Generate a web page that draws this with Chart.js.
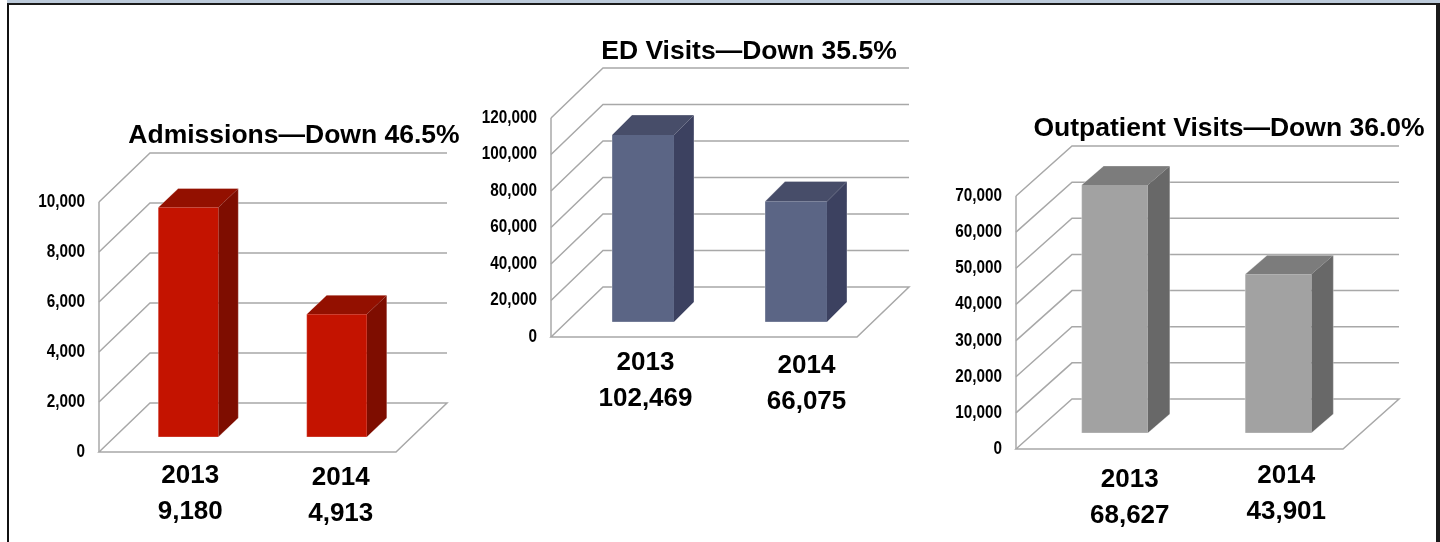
<!DOCTYPE html>
<html>
<head>
<meta charset="utf-8">
<title>Admissions, ED and Outpatient Visits</title>
<script src="https://cdn.jsdelivr.net/npm/chart.js@4/dist/chart.umd.min.js"></script>
<style>
  html, body { margin: 0; background: #fff; overflow: hidden; }
  #frame { position: absolute; left: 7px; top: 0; width: 1433px; height: 542px; box-sizing: border-box;
           border-top: 3px solid #bccada; }
  #frame div { position: absolute; left: 0; top: 0; right: 0; bottom: 0; box-sizing: border-box;
               border-top: 2px solid #1a1a1a; border-left: 2px solid #111; border-right: 4px solid #1a1a1a; }
  .box { position: absolute; }
</style>
</head>
<body>
<div id="frame"><div></div></div>
<div class="box" style="left:20px;top:110px;width:445px;height:430px"><canvas id="admissions"></canvas></div>
<div class="box" style="left:470px;top:30px;width:450px;height:400px"><canvas id="edVisits"></canvas></div>
<div class="box" style="left:930px;top:105px;width:500px;height:435px"><canvas id="outpatient"></canvas></div>
<script>
const years = ["2013", "2014"];

const admissionsTitle = "Admissions\u2014Down 46.5%";
const admissionsValues = [9180, 4913];
const admissionsTicks = [0, 2000, 4000, 6000, 8000, 10000];

const edTitle = "ED Visits\u2014Down 35.5%";
const edValues = [102469, 66075];
const edTicks = [0, 20000, 40000, 60000, 80000, 100000, 120000];

const outpatientTitle = "Outpatient Visits\u2014Down 36.0%";
const outpatientValues = [68627, 43901];
const outpatientTicks = [0, 10000, 20000, 30000, 40000, 50000, 60000, 70000];

const fmt = (v) => v.toLocaleString("en-US");

// fake 3d: back wall and floor, then the bars as three faces
const fake3d = {
    id: "fake3d",
    beforeDatasetsDraw(chart, args, opts) {
        const { ctx, chartArea: a, scales: { y } } = chart;
        const [dx, dy] = opts.wall;
        ctx.save();
        ctx.strokeStyle = "#a8a8a8";
        ctx.lineWidth = 1.5;
        ctx.lineJoin = "miter";
        y.ticks.forEach((t) => {
            const py = y.getPixelForValue(t.value);
            ctx.beginPath();
            ctx.moveTo(a.left, py);
            ctx.lineTo(a.left + dx, py + dy);
            ctx.lineTo(a.right + dx, py + dy);
            if (t.value === 0) {
                ctx.lineTo(a.right, py);
                ctx.closePath();
            }
            ctx.stroke();
        });
        ctx.beginPath();
        ctx.moveTo(a.left, a.top);
        ctx.lineTo(a.left, a.bottom);
        ctx.stroke();
        ctx.restore();
    },
    beforeDatasetDraw(chart, args, opts) {
        const { ctx } = chart;
        const [ox, oy] = opts.offset;
        const [dx, dy] = opts.depth;
        args.meta.data.forEach((bar) => {
            const l = bar.x - bar.width / 2 + ox;
            const r = bar.x + bar.width / 2 + ox;
            const t = bar.y + oy;
            const b = bar.base + oy;
            const trace = (pts) => {
                ctx.beginPath();
                pts.forEach((p, i) => (i ? ctx.lineTo(p[0], p[1]) : ctx.moveTo(p[0], p[1])));
                ctx.closePath();
            };
            const face = (pts, fill) => {
                trace(pts);
                ctx.fillStyle = fill;
                ctx.fill();
            };
            face([[l, t], [l + dx, t + dy], [r + dx, t + dy], [r, t]], opts.top);
            face([[r, t], [r + dx, t + dy], [r + dx, b + dy], [r, b]], opts.side);
            face([[l, t], [r, t], [r, b], [l, b]], opts.front);
            // faint light rim round the whole block
            trace([[l, t], [l + dx, t + dy], [r + dx, t + dy], [r + dx, b + dy], [r, b], [l, b]]);
            ctx.strokeStyle = "rgba(255,255,255,0.3)";
            ctx.lineWidth = 1;
            ctx.stroke();
        });
        return false;
    },
    afterLayout(chart, args, opts) {
        // the titles sit off centre from the plots
        chart.titleBlock.left = opts.titleLeft;
        chart.titleBlock.right = opts.titleRight;
        chart.scales.x.getLabelItems().forEach((item, i) => {
            item.options.translation[0] += opts.labelNudge[i][0];
            item.options.translation[1] += opts.labelNudge[i][1];
        });
        // tick labels are a squeezed bold face, no narrow font on hand
        const y = chart.scales.y;
        if (!y.drawLabelsPlain) {
            y.drawLabelsPlain = y.drawLabels;
            y.drawLabels = function (area) {
                const edge = y.right - y.options.ticks.padding;
                const c = y.ctx;
                c.save();
                c.translate(edge, 0);
                c.scale(0.85, 1);
                c.translate(-edge, 0);
                y.drawLabelsPlain(area);
                c.restore();
            };
        }
    },
};
Chart.register(fake3d);

function make3dBars(id, title, values, valueTicks, g) {
    const canvas = document.getElementById(id);
    const box = canvas.parentNode.getBoundingClientRect();
    return new Chart(canvas, {
        type: "bar",
        data: {
            labels: years.map((y, i) => [y, fmt(values[i])]),
            datasets: [{ data: values, backgroundColor: g.front, barPercentage: 0.405, categoryPercentage: 1 }],
        },
        options: {
            responsive: true,
            maintainAspectRatio: false,
            animation: false,
            layout: { autoPadding: false, padding: { right: box.right - g.right } },
            plugins: {
                legend: { display: false },
                tooltip: { enabled: false },
                title: {
                    display: true,
                    text: title,
                    color: "#000",
                    font: { family: "Liberation Sans", weight: "bold", size: 26.5, lineHeight: 1.2 },
                    padding: { top: g.titleY - 15.9 - box.top, bottom: g.top - g.titleY - 15.9 },
                },
                fake3d: {
                    wall: g.wall, offset: g.offset, depth: g.depth,
                    front: g.front, top: g.topFace, side: g.side,
                    titleLeft: g.titleX - 200 - box.left, titleRight: g.titleX + 200 - box.left,
                    labelNudge: g.labelNudge,
                },
            },
            scales: {
                x: {
                    grid: { display: false },
                    border: { display: false },
                    ticks: {
                        color: "#000",
                        padding: 0,
                        maxRotation: 0,
                        autoSkip: false,
                        font: { family: "Liberation Sans", weight: "bold", size: 26, lineHeight: 1.385 },
                    },
                    afterFit(scale) { scale.height = box.bottom - g.bottom; },
                },
                y: {
                    min: 0,
                    max: valueTicks[valueTicks.length - 1],
                    grid: { display: false, drawTicks: false },
                    border: { display: false },
                    afterBuildTicks(scale) { scale.ticks = valueTicks.map((value) => ({ value })); },
                    ticks: {
                        color: "#000",
                        padding: 14,
                        callback: (v) => fmt(v),
                        font: { family: "Liberation Sans", weight: "bold", size: 18 },
                    },
                    afterFit(scale) { scale.width = g.left - box.left; },
                },
            },
        },
    });
}

make3dBars("admissions", admissionsTitle, admissionsValues, admissionsTicks, {
    left: 99, right: 396, top: 202, bottom: 452,
    wall: [51, -49], offset: [15, -15], depth: [20, -19],
    front: "#c41300", topFace: "#931000", side: "#7e0d00",
    titleX: 294, titleY: 136,
    labelNudge: [[17, -2], [19, 0]],
});

make3dBars("edVisits", edTitle, edValues, edTicks, {
    left: 551, right: 857, top: 118, bottom: 337,
    wall: [52, -50], offset: [15.5, -15], depth: [20, -20],
    front: "#5b6585", topFace: "#474d69", side: "#3c4160",
    titleX: 749, titleY: 52,
    labelNudge: [[18, 0], [26, 3]],
});

make3dBars("outpatient", outpatientTitle, outpatientValues, outpatientTicks, {
    left: 1016, right: 1343, top: 196, bottom: 449,
    wall: [56, -50], offset: [17, -16], depth: [22, -19],
    front: "#a2a2a2", topFace: "#7c7c7c", side: "#686868",
    titleX: 1229, titleY: 129,
    labelNudge: [[32, 5], [25, 1]],
});
</script>
</body>
</html>
